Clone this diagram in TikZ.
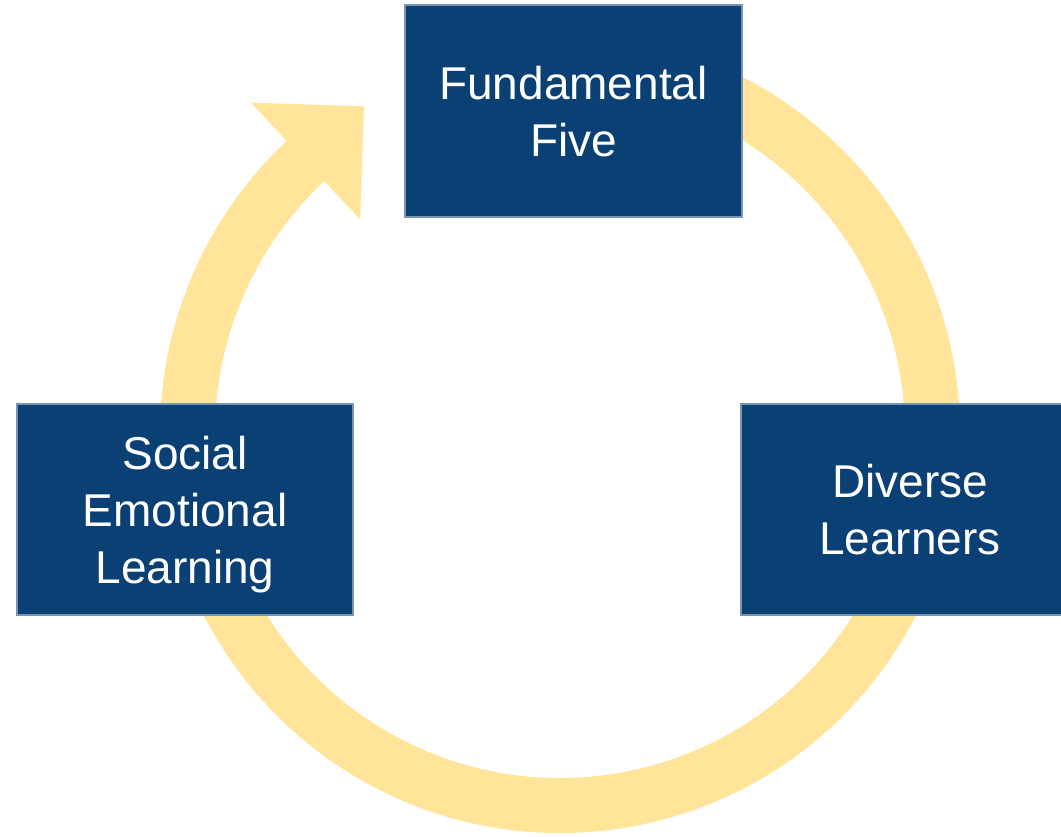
\documentclass[tikz,border=0pt]{standalone}
\usepackage{fontspec}
\setmainfont{Liberation Sans}
\usetikzlibrary{calc}

\definecolor{boxblue}{RGB}{10,64,116}
\definecolor{ringgold}{RGB}{255,228,153}

\begin{document}
\begin{tikzpicture}[x=1pt, y=1pt,
			area/.style={rectangle, fill=boxblue, draw=boxblue!55, line width=1.2pt, text=white, align=center, inner sep=0pt, text depth=0pt, font=\fontsize{46}{57}\selectfont},
			ring/.style={line width=55pt, ringgold}]

			\useasboundingbox (0,0) rectangle (1061,836);
			\coordinate (c) at (560,403);

			% cycle ring, head points at the top box
			\draw[ring] (c) ++(100:372.5) arc[start angle=100, end angle=-227.8, radius=372.5];
			\coordinate (base) at ($(c)+(133.1:372.5)$);
			\fill[ringgold] ($(c)+(133.1:452.5)$) -- ($(base)+(43.1:80)$) -- ($(c)+(133.1:292.5)$) -- cycle;

			\node[area, minimum width=337pt, minimum height=212pt] (five) at (573.5,725) {Fundamental\\Five};
			\node[area, minimum width=336pt, minimum height=211pt] (sel) at (185,326.5) {Social\\Emotional\\Learning};
			\node[area, minimum width=338pt, minimum height=211pt] (diverse) at (910,326.5) {Diverse\\Learners};
		\end{tikzpicture}
\end{document}
